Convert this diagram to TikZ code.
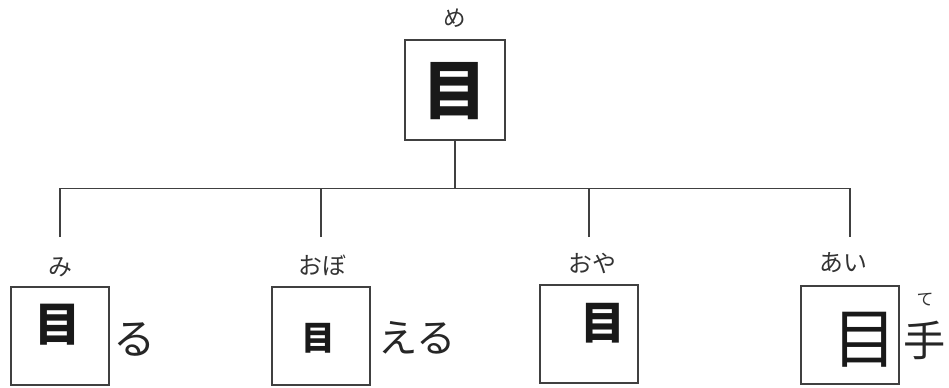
\documentclass[tikz,border=0pt]{standalone}
\usepackage{fontspec}
\newfontfamily\jpfont{Noto Sans CJK JP}
\newcommand{\jpsize}[1]{\jpfont\fontsize{#1}{#1}\selectfont}
\tikzset{
    kbox/.style={draw=black!75, line width=0.8pt, minimum size=2.45cm, inner sep=0pt},
    yomi/.style={inner sep=0pt, font=\jpsize{17pt}, text=black!80},
    kanji/.style={inner sep=0pt, text=black!90},
    okuri/.style={inner sep=0pt, font=\jpsize{30pt}, text=black!85},
    tree/.style={draw=black!75, line width=1.2pt}
}
\begin{document}
\begin{tikzpicture}[x=0.025cm, y=-0.025cm]
    \useasboundingbox (0,0) rectangle (949,388);

    % the top box
    \node[kbox, minimum size=2.5cm] (top) at (455,90) {};
    \node[kanji, font=\jpsize{46pt}\bfseries] (topk) at (455,91) {目};
    \node[yomi, font=\jpsize{16pt}] (me) at (455,18) {め};

    % the four boxes below
    \node[kbox] (b1) at (60,336) {};
    \node[kbox] (b2) at (321,336) {};
    \node[kbox] (b3) at (589,334) {};
    \node[kbox] (b4) at (850,335) {};

    % the readings above the boxes
    \node[yomi] (mi) at (60,267) {み};
    \node[yomi] (obo) at (322,265) {おぼ};
    \node[yomi] (oya) at (592,263) {おや};
    \node[yomi] (ai) at (843,263) {あい};

    % the kanji in the boxes
    \node[kanji, font=\jpsize{33pt}\bfseries] (k1) at (58,325) {目};
    \node[kanji, font=\jpsize{24pt}\bfseries] (k2) at (318,338) {目};
    \node[kanji, font=\jpsize{32pt}\bfseries] (k3) at (603,323) {目};
    \node[kanji, font=\jpsize{46pt}] (k4) at (865,340) {目};

    % the kana and kanji beside the boxes
    \node[okuri] (ru) at (135,340) {る};
    \node[okuri, font=\jpsize{28pt}] (eru) at (417,338) {える};
    \node[okuri, font=\jpsize{30pt}] (te) at (925,340) {手};
    \node[yomi, font=\jpsize{12pt}] (teyomi) at (925,300) {て};

    % the tree lines
    \coordinate (e1) at (60,237);
    \coordinate (e2) at (321,237);
    \coordinate (e3) at (589,237);
    \coordinate (e4) at (850,237);
    \draw[tree] (top.south) -- ++(0,48) coordinate (bus);
    \draw[tree] (e1) |- (bus) -| (e4);
    \draw[tree] (e2) -- (e2 |- bus);
    \draw[tree] (e3) -- (e3 |- bus);
\end{tikzpicture}
\end{document}
